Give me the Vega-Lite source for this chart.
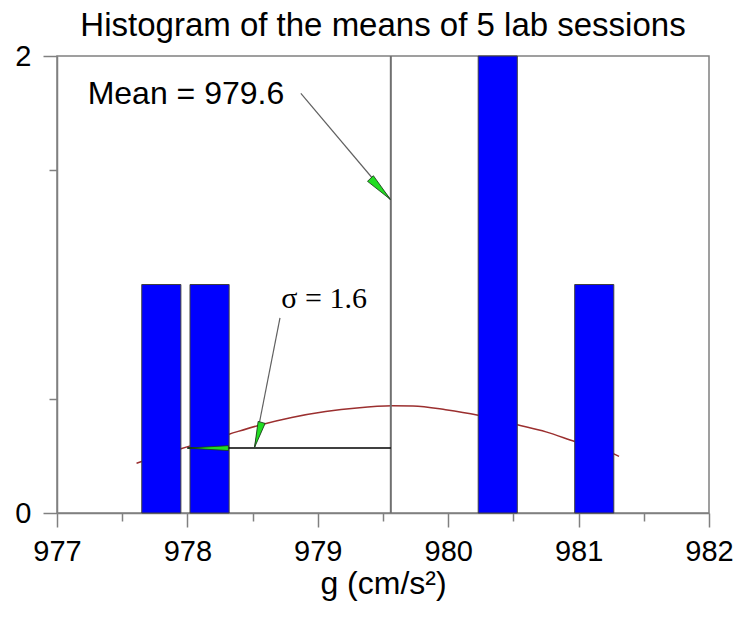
{
  "$schema": "https://vega.github.io/schema/vega-lite/v6.json",
  "width": 652,
  "height": 457,
  "autosize": {"type": "none"},
  "padding": {"left": 57, "top": 56, "right": 29, "bottom": 105},
  "background": "white",
  "config": {
    "view": {"stroke": "#808080", "strokeWidth": 1.5},
    "axis": {"domainColor": "#808080", "tickColor": "#808080", "domainWidth": 1.5, "tickWidth": 1.5, "grid": false, "labelColor": "black", "labelFont": "Liberation Sans", "labelFontSize": 29, "titleFont": "Liberation Sans", "titleFontSize": 32, "titleFontWeight": "normal", "titleColor": "black"}
  },
  "title": {"text": "Histogram of the means of 5 lab sessions", "font": "Liberation Sans", "fontSize": 33, "fontWeight": "normal", "color": "black", "anchor": "middle", "baseline": "alphabetic", "offset": -27},
  "resolve": {"axis": {"x": "independent", "y": "independent"}},
  "layer": [
    {
      "encoding": {
        "x": {"field": "g", "type": "quantitative", "scale": {"domain": [977, 982], "nice": false, "zero": false},
          "axis": {"orient": "bottom", "title": "g (cm/s²)", "values": [977, 978, 979, 980, 981, 982], "format": "d", "tickSize": 14, "labelPadding": 10, "titlePadding": 2, "labelFlush": false, "labelOverlap": false}},
        "y": {"field": "n", "type": "quantitative", "scale": {"domain": [0, 2], "nice": false},
          "axis": {"orient": "left", "title": null, "values": [0, 1, 2], "format": "d", "tickSize": 14, "labelPadding": 12, "labelFlush": false, "labelOverlap": false}}
      },
      "layer": [
        {
          "data": {"values": [
            {"g": 977.61, "n": 0.218}, {"g": 977.95, "n": 0.281}, {"g": 978.32, "n": 0.345}, {"g": 978.55, "n": 0.384},
            {"g": 978.8, "n": 0.418}, {"g": 979.06, "n": 0.444}, {"g": 979.3, "n": 0.46}, {"g": 979.57, "n": 0.469},
            {"g": 979.73, "n": 0.468}, {"g": 979.98, "n": 0.452}, {"g": 980.23, "n": 0.428}, {"g": 980.53, "n": 0.386},
            {"g": 980.75, "n": 0.355}, {"g": 980.97, "n": 0.313}, {"g": 981.27, "n": 0.259}, {"g": 981.31, "n": 0.248}
          ]},
          "mark": {"type": "line", "color": "#9b2f2f", "strokeWidth": 1.5, "interpolate": "monotone"}
        },
        {
          "data": {"values": [
            {"g": 977.65, "g2": 977.95, "n": 1},
            {"g": 978.02, "g2": 978.32, "n": 1},
            {"g": 980.23, "g2": 980.53, "n": 2},
            {"g": 980.97, "g2": 981.27, "n": 1}
          ]},
          "mark": {"type": "rect", "fill": "#0000ff", "stroke": "#404040", "strokeWidth": 1},
          "encoding": {"x2": {"field": "g2"}, "y2": {"datum": 0}}
        },
        {
          "data": {"values": [{"g": 979.56, "n": 0, "n2": 2}]},
          "mark": {"type": "rule", "color": "#707070", "strokeWidth": 2},
          "encoding": {"y2": {"field": "n2"}}
        },
        {
          "data": {"values": [{"g": 978.0, "g2": 979.56, "n": 0.284}]},
          "mark": {"type": "rule", "color": "black", "strokeWidth": 1.5},
          "encoding": {"x2": {"field": "g2"}}
        },
        {
          "data": {"values": [
            {"g": 978.87, "n": 1.836, "g2": 979.557, "n2": 1.372},
            {"g": 978.71, "n": 0.854, "g2": 978.515, "n2": 0.287}
          ]},
          "mark": {"type": "rule", "color": "#606060", "strokeWidth": 1.2},
          "encoding": {"x2": {"field": "g2"}, "y2": {"field": "n2"}}
        },
        {
          "data": {"values": [{"g": 979.557, "n": 1.372}]},
          "mark": {"type": "point", "shape": "M0,0L2,-0.28L2,0.28Z", "filled": true, "fill": "#22dd22", "stroke": "#1a3a1a", "strokeWidth": 0.8, "opacity": 1, "size": 841, "angle": 226.4}
        },
        {
          "data": {"values": [{"g": 978.515, "n": 0.287}]},
          "mark": {"type": "point", "shape": "M0,0L2,-0.28L2,0.28Z", "filled": true, "fill": "#22dd22", "stroke": "#1a3a1a", "strokeWidth": 0.8, "opacity": 1, "size": 676, "angle": 285.8}
        },
        {
          "data": {"values": [{"g": 978.0, "n": 0.284}]},
          "mark": {"type": "point", "shape": "M0,0L2,-0.12L2,0.12Z", "filled": true, "fill": "#22dd22", "stroke": "#1a3a1a", "strokeWidth": 0.8, "opacity": 1, "size": 1681, "angle": 0}
        },
        {
          "data": {"values": [{"g": 977.235, "n": 1.791, "label": "Mean = 979.6"}]},
          "mark": {"type": "text", "align": "left", "baseline": "alphabetic", "font": "Liberation Sans", "fontSize": 32, "color": "black"},
          "encoding": {"text": {"field": "label"}}
        },
        {
          "data": {"values": [{"g": 978.72, "n": 0.896, "label": "σ = 1.6"}]},
          "mark": {"type": "text", "align": "left", "baseline": "alphabetic", "font": "Liberation Serif", "fontSize": 30, "color": "black"},
          "encoding": {"text": {"field": "label"}}
        }
      ]
    },
    {
      "data": {"values": [{"g": 977, "n": 0}]},
      "mark": {"type": "point", "opacity": 0},
      "encoding": {
        "x": {"field": "g", "type": "quantitative", "scale": {"domain": [977, 982], "nice": false, "zero": false},
          "axis": {"orient": "bottom", "title": null, "values": [977.5, 978.5, 979.5, 980.5, 981.5], "tickSize": 8, "labels": false, "domain": false}},
        "y": {"field": "n", "type": "quantitative", "scale": {"domain": [0, 2], "nice": false},
          "axis": {"orient": "left", "title": null, "values": [0.5, 1.5], "tickSize": 8, "labels": false, "domain": false}}
      }
    }
  ]
}
